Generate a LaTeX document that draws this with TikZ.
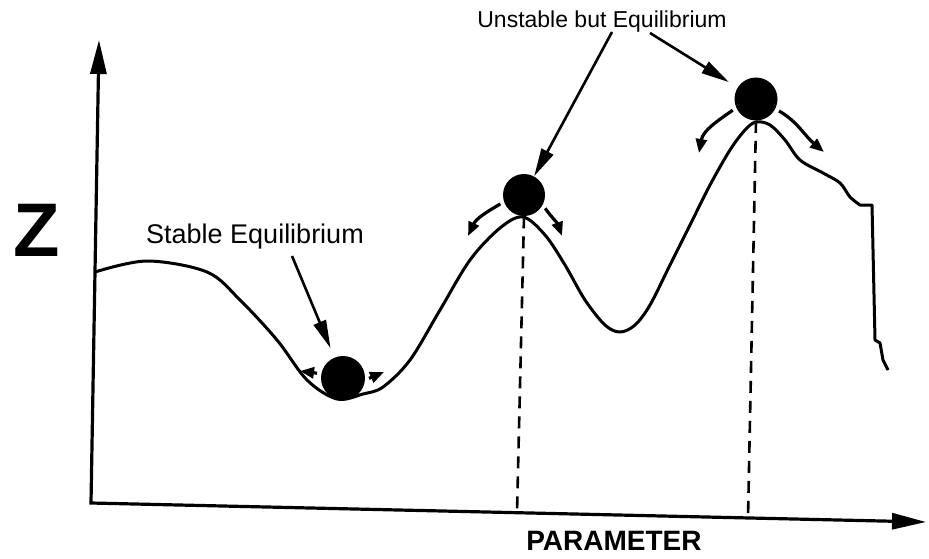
\documentclass[tikz,border=0pt]{standalone}
\usepackage{fontspec}
\setmainfont{Liberation Sans}
\usepackage{tikz}
\usetikzlibrary{arrows.meta}

\tikzset{
  ball/.style={circle, fill=black, inner sep=0pt, minimum size=#1},
  lead/.style={-{Triangle[length=14pt,width=6.5pt]}, line width=1.3pt},
  nudge/.style={-{Triangle[length=7pt,width=5.5pt]}, line width=1.6pt, shorten <=2pt},
  axes/.style={{Triangle[length=17pt,width=8pt]}-{Triangle[length=17pt,width=8pt]}, line width=1.6pt},
  drop/.style={dash pattern=on 6pt off 4pt, line width=1.3pt}
}

\begin{document}
\begin{tikzpicture}[x=0.5pt, y=0.5pt]
        \useasboundingbox (0,0) rectangle (929,558);

        % Axes
        \coordinate (O) at (91,55);
        \coordinate (ytip) at (99,518);
        \coordinate (xtip) at (926,36);
        \draw[axes] (ytip) -- (O) -- (xtip);

        % Potential curve
        \draw[line width=1.5pt, line join=round] plot[smooth, tension=0.55] coordinates {
            (95,286) (147,297) (207,286) (240,258) (277,218) (307,178)
            (337,159) (363,164) (383,171) (410,198) (440,248) (470,298)
            (500,330) (523,341) (545,323) (565,293) (585,258) (605,233)
            (620,226) (635,233) (650,253) (670,293) (690,333) (710,373)
            (730,408) (745,428) (756,436) (770,433) (785,418) (800,398)
            (823,385) (840,375) (850,361) (860,353)}
            -- (872,353) -- (875,218) -- (880,215) -- (883,198) -- (888,188);

        % Balls
        \node[ball=22pt] (stab) at (343,180) {};
        \node[ball=21pt] (ueq1) at (524,363) {};
        \node[ball=21.5pt] (ueq2) at (756,459) {};

        % Dashed drops
        \coordinate (d1) at (517,45);
        \coordinate (d2) at (748,40);
        \draw[drop] (ueq1.south) -- (d1);
        \draw[drop] (ueq2.south) -- (d2);

        % Labels
        \node[font=\bfseries\fontsize{38}{38}\selectfont] (zlab) at (37,328) {Z};
        \node[font=\fontsize{13.5}{16}\selectfont] (stabtxt) at (255,321) {Stable Equilibrium};
        \node[font=\fontsize{11.5}{14}\selectfont] (unsttxt) at (602,536) {Unstable but Equilibrium};
        \node[font=\bfseries\fontsize{14}{16}\selectfont] (parlab) at (614,17) {PARAMETER};

        % Leader arrows
        \coordinate (s0) at (292,302);
        \coordinate (u0) at (612,526);
        \coordinate (u1) at (650,525);
        \draw[lead, shorten >=5pt] (s0) -- (stab);
        \draw[lead] (u0) -- (ueq1);
        \draw[lead, shorten >=5pt] (u1) -- (ueq2);

        % Small push arrows
        \coordinate (sl) at (300,187);
        \coordinate (sr) at (384,186);
        \coordinate (al) at (468,322);
        \coordinate (ar) at (562,322);
        \coordinate (bl) at (699,405);
        \coordinate (br) at (824,406);
        \draw[nudge] (stab.169) -- (sl);
        \draw[nudge] (stab.355) -- (sr);
        \draw[nudge] (ueq1.199) to[out=210, in=65] (al);
        \draw[nudge] (ueq1.332) to[out=-55, in=110] (ar);
        \draw[nudge] (ueq2.204) to[out=215, in=80] (bl);
        \draw[nudge] (ueq2.333) to[out=-30, in=140] (br);
    \end{tikzpicture}
\end{document}
